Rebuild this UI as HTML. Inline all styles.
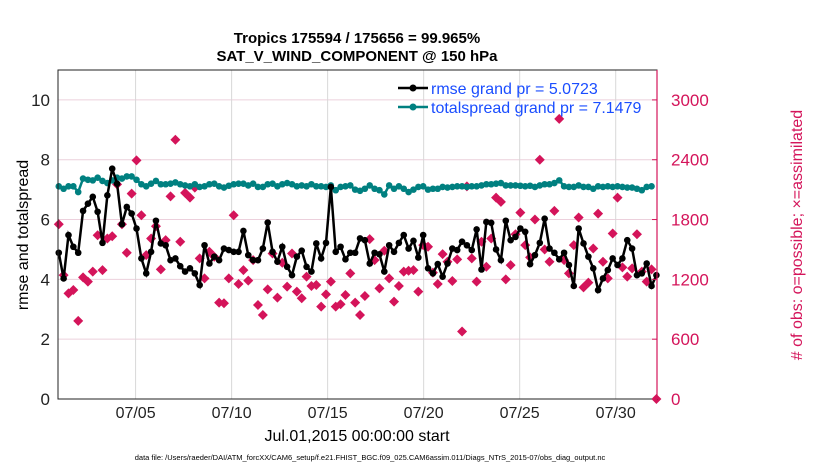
<!DOCTYPE html>
<html><head><meta charset="utf-8"><style>
body{margin:0;background:#fff;}
svg{display:block;font-family:"Liberation Sans",Arial,sans-serif;}
</style></head><body>
<svg id="chart" width="830" height="470" xmlns="http://www.w3.org/2000/svg">
<text x="357" y="43" text-anchor="middle" font-size="15" font-weight="bold">Tropics 175594 / 175656 = 99.965%</text>
<text x="357" y="61" text-anchor="middle" font-size="15" font-weight="bold">SAT_V_WIND_COMPONENT @ 150 hPa</text>
<g id="grid"></g>
<g id="obs"></g>
<g id="spread"></g>
<g id="rmse"></g>
<rect x="58" y="70" width="599" height="329" fill="none" stroke="#222" stroke-width="1"/>
<line x1="657" y1="70" x2="657" y2="399" stroke="#d4145a" stroke-width="1.2"/>
<g id="axes"></g>
<g>
<line x1="398" y1="88" x2="428" y2="88" stroke="#000" stroke-width="2.5"/><circle cx="413" cy="88" r="3.5" fill="#000"/>
<text x="431" y="94" font-size="16" fill="#1a4dff">rmse grand pr = 5.0723</text>
<line x1="398" y1="107" x2="428" y2="107" stroke="#008080" stroke-width="2.5"/><circle cx="413" cy="107" r="3.5" fill="#008080"/>
<text x="431" y="113" font-size="16" fill="#1a4dff">totalspread grand pr = 7.1479</text>
</g>
<text transform="translate(28,235) rotate(-90)" text-anchor="middle" font-size="16">rmse and totalspread</text>
<text transform="translate(802,235) rotate(-90)" text-anchor="middle" font-size="16" fill="#d4145a"># of obs: o=possible; ×=assimilated</text>
<text x="357" y="441" text-anchor="middle" font-size="16">Jul.01,2015 00:00:00 start</text>
<text x="370" y="460" text-anchor="middle" font-size="7.5">data file: /Users/raeder/DAI/ATM_forcXX/CAM6_setup/f.e21.FHIST_BGC.f09_025.CAM6assim.011/Diags_NTrS_2015-07/obs_diag_output.nc</text>
</svg>
<script>
const rmse=[4.89,4.03,5.48,5.09,4.89,6.29,6.53,6.76,6.26,5.22,6.81,7.7,7.2,5.84,6.42,6.2,5.7,4.7,4.2,4.92,5.96,5.2,5.14,4.64,4.7,4.44,4.26,4.37,4.2,3.81,5.14,4.53,4.76,4.64,5.03,4.98,4.92,4.92,5.62,4.81,4.64,4.64,5.03,
5.9,4.92,4.59,5.09,4.42,4.14,4.76,4.96,4.42,4.26,5.2,4.7,5.22,7.09,4.92,5.09,4.67,4.89,4.89,5.37,5.31,4.53,4.89,4.84,4.26,5.14,4.92,5.22,5.48,5.03,5.29,4.73,5.48,4.37,4.2,4.51,4.09,4.53,5.03,4.98,5.26,
5.14,4.98,5.67,4.33,5.92,5.89,5.0,4.64,5.96,5.31,5.42,5.7,5.59,4.51,4.81,5.22,6.03,5.03,4.89,4.67,4.89,4.48,3.78,5.7,5.2,4.76,4.37,3.64,4.03,4.31,4.7,4.48,4.7,5.31,5.03,4.14,4.2,4.53,3.78,4.14];
const spread=[7.11,7.03,7.11,7.11,6.92,7.37,7.33,7.31,7.4,7.29,7.22,7.31,7.4,7.37,7.44,7.44,7.33,7.18,7.11,7.2,7.29,7.18,7.18,7.2,7.24,7.18,7.14,7.11,7.18,7.09,7.11,7.18,7.2,7.11,7.07,7.13,7.18,7.2,7.2,7.14,7.2,7.09,7.09,
7.18,7.2,7.11,7.18,7.22,7.18,7.11,7.14,7.11,7.18,7.11,7.11,7.09,7.14,6.98,7.09,7.11,7.14,7.0,6.96,7.03,7.14,7.03,6.98,6.84,7.14,7.03,7.11,7.03,6.92,7.0,7.09,7.11,7.0,7.03,7.03,7.09,7.07,7.09,7.11,
7.11,7.09,7.11,7.11,7.14,7.18,7.18,7.2,7.22,7.14,7.14,7.14,7.13,7.11,7.13,7.09,7.14,7.18,7.18,7.22,7.31,7.11,7.09,7.09,7.14,7.09,7.09,7.03,7.11,7.09,7.11,7.09,7.11,7.09,7.07,7.07,7.03,6.98,7.09,7.11];
const obs=[1753,1243,1060,1093,783,1220,1177,1277,1643,1293,1610,1633,2153,1753,1467,2060,2393,1843,1443,1610,1733,1300,1593,2033,2600,1577,2067,2020,2120,1410,1210,1477,1427,967,960,1210,1843,1153,1293,1187,1393,943,843,
1100,1460,1017,1367,1127,1460,1077,1010,1227,1133,1143,927,1050,1177,927,950,1043,1260,967,843,1033,1603,1393,1110,1487,1210,977,1133,1277,1287,1293,1077,1543,1527,1267,1153,1453,1377,1183,1400,677,
2133,1410,1177,1577,1327,1610,2020,1977,1200,1343,1653,1870,1543,1420,1800,2400,1500,1377,1887,2810,1393,1260,1543,1820,1120,1167,1510,1860,1377,1210,1660,2020,1320,1227,1310,1653,1277,1177,1300,0];
const leftTicks=[0,2,4,6,8,10];
const rightTicks=[0,600,1200,1800,2400,3000];
const xTickDays=[5,10,15,20,25,30];
const xTickLabels=["07/05","07/10","07/15","07/20","07/25","07/30"];
const startDay=1, stepDay=0.253;

const NS="http://www.w3.org/2000/svg";
const X0=58,X1=657,D0=0.96,D1=32.15,Y0=399,Y1=70,V1=11;
function xs(d){return X0+(d-D0)/(D1-D0)*(X1-X0);}
function ys(v){return Y0-(v/V1)*(Y0-Y1);}
function yr(c){return ys(c/300);}
function dayOf(i){return startDay+i*stepDay;}
function mk(tag,attrs,parent){const e=document.createElementNS(NS,tag);for(const k in attrs)e.setAttribute(k,attrs[k]);parent.appendChild(e);return e;}
const grid=document.getElementById('grid'),axes=document.getElementById('axes');
leftTicks.forEach(v=>{
  if(v>0){const g=mk('line',{x1:X0,x2:X1,y1:ys(v),y2:ys(v),stroke:'#ecd0dc','stroke-width':1},grid);
  
  }
  const t=mk('text',{x:X0-8,y:ys(v)+6,'text-anchor':'end','font-size':17,fill:'#222'},axes);t.textContent=v;
  
  
});
rightTicks.forEach(c=>{
  const t=mk('text',{x:X1+14,y:yr(c)+6,'font-size':17,fill:'#d4145a'},axes);t.textContent=c;
  
  
  mk('line',{x1:X1-5,x2:X1,y1:yr(c),y2:yr(c),stroke:'#d4145a'},axes);
});
xTickDays.forEach((d,i)=>{
  const g=mk('line',{x1:xs(d),x2:xs(d),y1:Y1,y2:Y0,stroke:'#d8d8d8','stroke-width':1},grid);
  
  
  const t=mk('text',{x:xs(d),y:418,'text-anchor':'middle','font-size':16,fill:'#222'},axes);t.textContent=xTickLabels[i];
  
  
});
const og=document.getElementById('obs');
obs.forEach((c,i)=>{
  const x=xs(dayOf(i)),y=yr(c),s=5;
  const p=mk('polygon',{points:`${x},${y-s} ${x+s},${y} ${x},${y+s} ${x-s},${y}`,fill:'#d4145a'},og);
  
  
});
function series(arr,color,gid,name){
  const g=document.getElementById(gid);
  const pts=arr.map((v,i)=>xs(dayOf(i))+','+ys(v)).join(' ');
  const l=mk('polyline',{points:pts,fill:'none',stroke:color,'stroke-width':2.5},g);
  
  
  arr.forEach((v,i)=>{const c=mk('circle',{cx:xs(dayOf(i)),cy:ys(v),r:3.3,fill:color},g);
  
  });
}
series(spread,'#008080','spread','totalspread');
series(rmse,'#000','rmse','rmse');
</script>
</body></html>
